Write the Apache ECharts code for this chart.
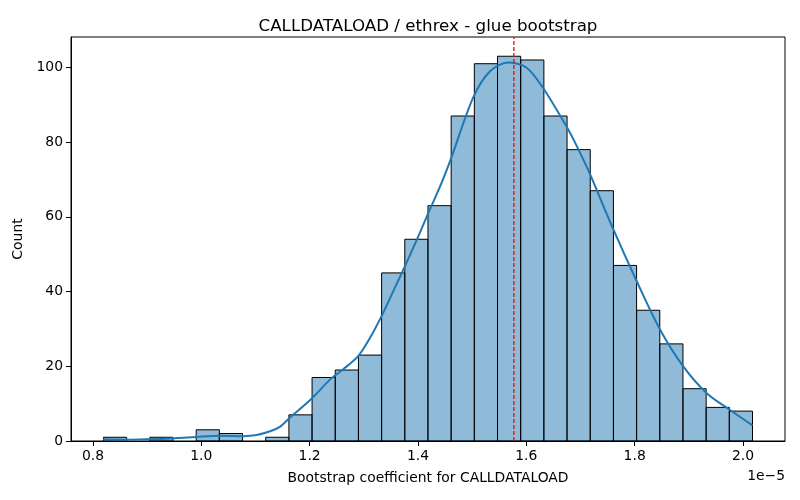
<!DOCTYPE html>
<html>
<head>
<meta charset="utf-8">
<script src="https://cdn.jsdelivr.net/npm/echarts@6/dist/echarts.min.js"></script>
<style>
  html, body { margin: 0; padding: 0; background: #fff; }
  #chart { width: 800px; height: 500px; }
</style>
</head>
<body>
<div id="chart"></div>
<script>
// values in units of 1e-5
const binStart = 0.8194
const binWidth = 0.04279
const counts = [1, 0, 1, 0, 3, 2, 0, 1, 7, 17, 19, 23, 45, 54, 63, 87, 101, 103, 102, 87, 78, 67, 47, 35, 26, 14, 9, 8]

const kdeX = [0.819, 0.862, 0.905, 0.942, 0.991, 1.034, 1.078, 1.102, 1.127, 1.145, 1.164, 1.204, 1.238, 1.262, 1.290, 1.311, 1.333, 1.354, 1.376, 1.398, 1.419, 1.441, 1.462, 1.502, 1.533, 1.566, 1.600, 1.631, 1.675, 1.693, 1.718, 1.758, 1.804, 1.847, 1.890, 1.933, 1.976, 2.0175]
const kdeY = [0.45, 0.35, 0.5, 0.7, 1.1, 1.4, 1.3, 1.6, 2.6, 3.8, 6.3, 11.4, 16.5, 19.2, 22.8, 27.5, 33.5, 40, 46.8, 53.9, 61, 68.2, 76, 92, 99, 101.3, 100, 94.5, 84, 79, 71.3, 57.5, 42.7, 29.8, 19.9, 12.8, 8.3, 4.2]

const meanLine = 1.577
const yTop = 108.15
const xTicks = [0.8, 1.0, 1.2, 1.4, 1.6, 1.8, 2.0]
const yTicks = [0, 20, 40, 60, 80, 100]

const font = 'DejaVu Sans'
const chart = echarts.init(document.getElementById('chart'))

const bins = counts.map((c, i) => [binStart + i * binWidth, binStart + (i + 1) * binWidth, c])

chart.setOption({
  animation: false,
  title: {
    text: 'CALLDATALOAD / ethrex - glue bootstrap',
    left: 423,
    top: 13,
    textAlign: 'center',
    textStyle: { fontFamily: font, fontSize: 16.7, fontWeight: 'normal', color: '#000' }
  },
  grid: {
    left: 71, right: 15, top: 37, bottom: 59,
    show: true, borderColor: '#000', borderWidth: 1, backgroundColor: 'transparent'
  },
  xAxis: {
    type: 'value',
    min: 0.7595,
    max: 2.0775,
    name: 'Bootstrap coefficient for CALLDATALOAD',
    nameLocation: 'middle',
    nameGap: 30,
    nameTextStyle: { fontFamily: font, fontSize: 13.9, color: '#000' },
    splitLine: { show: false },
    axisLine: { show: true, onZero: false, lineStyle: { color: '#000', width: 1 } },
    axisTick: { show: true, length: 5, lineStyle: { color: '#000' }, customValues: xTicks },
    axisLabel: {
      fontFamily: font, fontSize: 13.9, color: '#000', margin: 8,
      customValues: xTicks,
      formatter: v => v.toFixed(1)
    }
  },
  yAxis: {
    type: 'value',
    min: 0,
    max: yTop,
    name: 'Count',
    nameLocation: 'middle',
    nameGap: 46,
    nameTextStyle: { fontFamily: font, fontSize: 13.9, color: '#000' },
    splitLine: { show: false },
    axisLine: { show: true, lineStyle: { color: '#000', width: 1 } },
    axisTick: { show: true, length: 5, lineStyle: { color: '#000' }, customValues: yTicks },
    axisLabel: { fontFamily: font, fontSize: 13.9, color: '#000', margin: 8, customValues: yTicks }
  },
  graphic: [{
    type: 'text',
    right: 15,
    top: 469,
    style: { text: '1e\u22125', fontFamily: font, fontSize: 13.9, fill: '#000' }
  }],
  series: [
    {
      type: 'custom',
      data: bins,
      encode: { x: [0, 1], y: 2 },
      z: 1,
      renderItem(params, api) {
        const c = api.value(2)
        if (!c) return null
        const p0 = api.coord([api.value(0), c])
        const p1 = api.coord([api.value(1), 0])
        return {
          type: 'rect',
          shape: { x: p0[0], y: p0[1], width: p1[0] - p0[0], height: p1[1] - p0[1] },
          style: { fill: 'rgba(31,119,180,0.5)', stroke: '#000', lineWidth: 1 }
        }
      }
    },
    {
      type: 'line',
      data: kdeX.map((x, i) => [x, kdeY[i]]),
      smooth: 0.3,
      showSymbol: false,
      lineStyle: { color: '#1f77b4', width: 2 },
      z: 3
    },
    {
      type: 'line',
      data: [[meanLine, 0], [meanLine, yTop]],
      showSymbol: false,
      silent: true,
      z: 10,
      lineStyle: { color: '#ff0000', type: [4, 2], width: 1.3 }
    }
  ]
})
</script>
</body>
</html>
